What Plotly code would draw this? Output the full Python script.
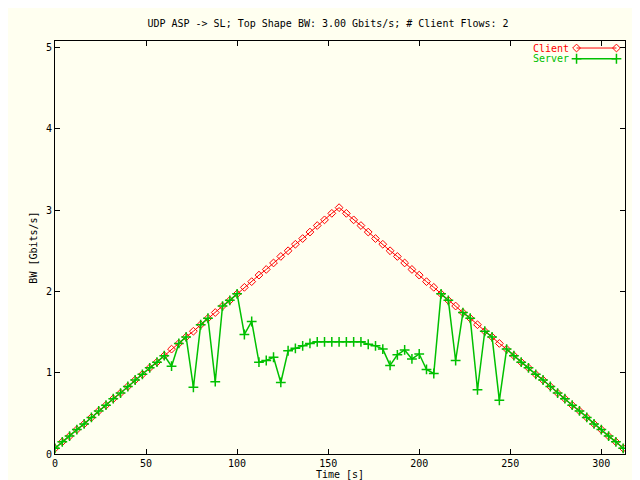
import plotly.graph_objects as go

time_s = [4*k for k in range(79)]
client = [0.07,0.15,0.22,0.30,0.37,0.45,0.53,0.60,0.68,0.75,0.83,0.91,0.98,1.06,1.13,1.21,1.29,1.36,1.44,1.51,
          1.59,1.67,1.74,1.82,1.89,1.97,2.05,2.12,2.20,2.27,2.35,2.43,2.50,2.58,2.65,2.73,2.81,2.88,2.96,3.03,
          2.96,2.88,2.81,2.73,2.65,2.58,2.50,2.43,2.35,2.27,2.20,2.12,2.05,1.97,1.89,1.82,1.74,1.67,1.59,1.51,
          1.44,1.36,1.29,1.21,1.13,1.06,0.98,0.91,0.83,0.75,0.68,0.60,0.53,0.45,0.37,0.30,0.22,0.15,0.07]
server = [0.07,0.15,0.22,0.30,0.37,0.45,0.53,0.60,0.68,0.75,0.83,0.91,0.98,1.06,1.13,1.21,1.08,1.36,1.44,0.82,
          1.59,1.67,0.89,1.82,1.89,1.97,1.47,1.63,1.13,1.15,1.19,0.88,1.27,1.30,1.33,1.36,1.38,1.38,1.38,1.38,
          1.38,1.38,1.38,1.35,1.33,1.29,1.09,1.22,1.28,1.17,1.23,1.04,0.99,1.97,1.89,1.15,1.74,1.67,0.79,1.51,
          1.44,0.66,1.29,1.21,1.13,1.06,0.98,0.91,0.83,0.75,0.68,0.60,0.53,0.45,0.37,0.30,0.22,0.15,0.07]
x_ticks = [0,50,100,150,200,250,300]
y_ticks = [0,1,2,3,4,5]

RED = "#ff0000"
GREEN = "#00c000"
font = dict(family="DejaVu Sans Mono", size=10, color="black")
cmark = dict(symbol="diamond-open", size=6, color=RED)
smark = dict(symbol="cross-thin-open", size=7, line=dict(color=GREEN, width=1.5))

fig = go.Figure()
fig.add_trace(go.Scatter(x=time_s, y=client, mode="lines+markers", showlegend=False,
    line=dict(color=RED, width=1), marker=cmark))
fig.add_trace(go.Scatter(x=time_s, y=server, mode="lines+markers", showlegend=False,
    line=dict(color=GREEN, width=1.5), marker=smark))
# legend samples on an overlay axis in [0,1]
fig.add_trace(go.Scatter(x=[0.915, 0.985], y=[0.983, 0.983], xaxis="x2", yaxis="y2", mode="lines+markers",
    showlegend=False, line=dict(color=RED, width=1), marker=cmark, hoverinfo="skip"))
fig.add_trace(go.Scatter(x=[0.915, 0.985], y=[0.957, 0.957], xaxis="x2", yaxis="y2", mode="lines+markers",
    showlegend=False, line=dict(color=GREEN, width=1.5), marker=smark, hoverinfo="skip"))

ax = dict(showgrid=False, zeroline=False, showline=True, mirror="ticks", linecolor="black", linewidth=1,
          ticks="inside", ticklen=5, tickcolor="black", tickfont=font, automargin=False)
fig.update_layout(
    width=640, height=480, paper_bgcolor="#fffff0", plot_bgcolor="#fffff0",
    margin=dict(l=47, r=23, t=33, b=34), font=font, showlegend=False,
    title=dict(text="UDP ASP -> SL; Top Shape BW: 3.00 Gbits/s; # Client Flows: 2", x=0.5, y=0.975, font=font),
    xaxis=dict(ax, range=[0,313], tickvals=x_ticks,
               title=dict(text="Time [s]", font=font, standoff=2)),
    yaxis=dict(ax, range=[0,5.08], tickvals=y_ticks,
               title=dict(text="BW [Gbits/s]", font=font, standoff=6)),
    xaxis2=dict(overlaying="x", range=[0,1], visible=False),
    yaxis2=dict(overlaying="y", range=[0,1], visible=False),
    annotations=[
        dict(text="Client", xref="paper", yref="paper", x=0.905, y=0.983, xanchor="right", yanchor="middle",
             showarrow=False, font=dict(family="DejaVu Sans Mono", size=10, color=RED)),
        dict(text="Server", xref="paper", yref="paper", x=0.905, y=0.957, xanchor="right", yanchor="middle",
             showarrow=False, font=dict(family="DejaVu Sans Mono", size=10, color=GREEN)),
    ],
)
fig.write_html("out.html")
